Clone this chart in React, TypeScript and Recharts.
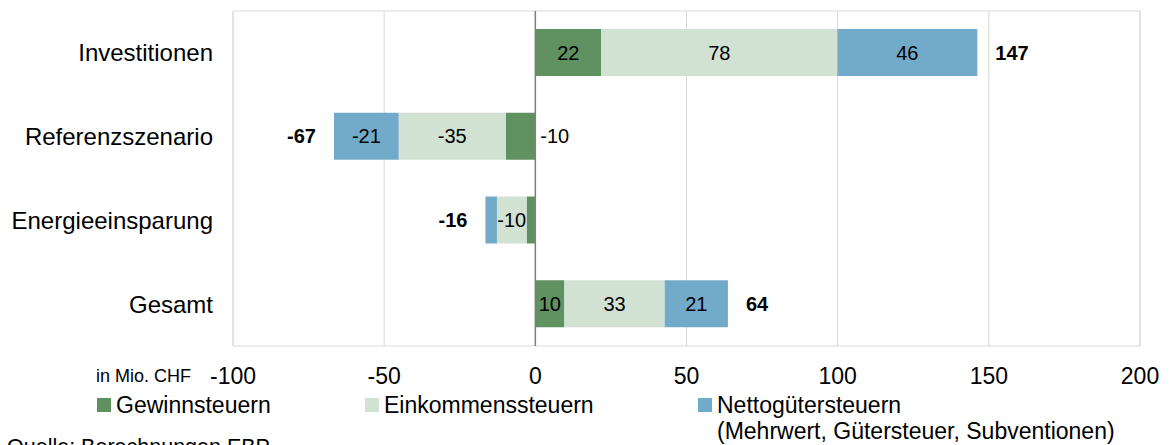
import { BarChart, Bar, XAxis, YAxis, CartesianGrid, ReferenceLine, ReferenceArea, LabelList } from "recharts";

const categories = ["Investitionen", "Referenzszenario", "Energieeinsparung", "Gesamt"];
const gewinn = [21.8, -9.8, -2.9, 9.6];
const einkommen = [78.1, -35.4, -9.8, 33.2];
const netto = [46.3, -21.4, -3.8, 20.9];
const totals = [147, -67, -16, 64];
const xTicks = [-100, -50, 0, 50, 100, 150, 200];

const GREEN = "#5f9161";
const LIGHT = "#d1e2d3";
const BLUE = "#72abc9";
const FONT = "'Liberation Sans', Arial, sans-serif";

const data = categories.map((name, i) => ({
  name,
  gewinn: gewinn[i],
  einkommen: einkommen[i],
  netto: netto[i],
}));

const segLabel = (series: string) => (props: any) => {
  const { x, y, width, height, value } = props;
  const v = Number(value);
  if (Math.abs(v) < 5) return null;
  const l = Math.min(x, x + width);
  const r = Math.max(x, x + width);
  let tx = (l + r) / 2;
  let anchor: "middle" | "start" = "middle";
  if (series === "gewinn" && v < 0) {
    tx = r + 5;
    anchor = "start";
  }
  return (
    <text x={tx} y={y + height / 2} textAnchor={anchor} dominantBaseline="central" fontSize={20} fill="#000" fontFamily={FONT}>
      {Math.round(v)}
    </text>
  );
};

const totalLabel = (props: any) => {
  const { x, y, width, height, index } = props;
  const t = totals[index];
  const l = Math.min(x, x + width);
  const r = Math.max(x, x + width);
  const pos = t >= 0;
  return (
    <text
      x={pos ? r + 18 : l - 18}
      y={y + height / 2}
      textAnchor={pos ? "start" : "end"}
      dominantBaseline="central"
      fontSize={20}
      fontWeight="bold"
      fill="#000"
      fontFamily={FONT}
    >
      {t}
    </text>
  );
};

const legendItems = [
  { x: 97, color: GREEN, lines: ["Gewinnsteuern"] },
  { x: 365, color: LIGHT, lines: ["Einkommenssteuern"] },
  { x: 698, color: BLUE, lines: ["Nettogütersteuern", "(Mehrwert, Gütersteuer, Subventionen)"] },
];

export default function App() {
  return (
    <div style={{ position: "absolute", left: 0, top: 0, width: 1172, height: 445, overflow: "hidden", background: "#fff", fontFamily: FONT }}>
      <BarChart
        width={1172}
        height={445}
        data={data}
        layout="vertical"
        stackOffset="sign"
        barSize={47}
        margin={{ top: 11, right: 32, bottom: 0, left: 0 }}
      >
        <CartesianGrid vertical horizontal={false} stroke="#d9d9d9" />
        <ReferenceArea x1={-100} x2={200} fill="none" stroke="#d9d9d9" />
        <XAxis
          type="number"
          domain={[-100, 200]}
          ticks={xTicks}
          height={99}
          axisLine={false}
          tickLine={false}
          tickMargin={16}
          tick={{ fontSize: 23, fill: "#000", fontFamily: FONT }}
        />
        <YAxis
          type="category"
          dataKey="name"
          width={233}
          axisLine={false}
          tickLine={false}
          tickMargin={14}
          tick={{ fontSize: 24, fill: "#000", fontFamily: FONT }}
        />
        <Bar dataKey="gewinn" stackId="a" fill={GREEN} isAnimationActive={false}>
          <LabelList dataKey="gewinn" content={segLabel("gewinn")} />
        </Bar>
        <Bar dataKey="einkommen" stackId="a" fill={LIGHT} isAnimationActive={false}>
          <LabelList dataKey="einkommen" content={segLabel("einkommen")} />
        </Bar>
        <Bar dataKey="netto" stackId="a" fill={BLUE} isAnimationActive={false}>
          <LabelList dataKey="netto" content={segLabel("netto")} />
          <LabelList dataKey="netto" content={totalLabel} />
        </Bar>
        <ReferenceLine x={0} stroke="#7f7f7f" strokeWidth={1.5} />
      </BarChart>
      <svg width={1172} height={445} style={{ position: "absolute", left: 0, top: 0, pointerEvents: "none" }}>
        <text x={96} y={376} fontSize={18} fontFamily={FONT} dominantBaseline="central" fill="#000">
          in Mio. CHF
        </text>
        {legendItems.map((it) => (
          <g key={it.lines[0]}>
            <rect x={it.x} y={398} width={14} height={14} fill={it.color} />
            {it.lines.map((ln, j) => (
              <text key={ln} x={it.x + 19} y={405 + j * 26} fontSize={23} fontFamily={FONT} dominantBaseline="central" fill="#000">
                {ln}
              </text>
            ))}
          </g>
        ))}
        <text x={7} y={454} fontSize={21.5} fontFamily={FONT} fill="#000">
          Quelle: Berechnungen EBP
        </text>
      </svg>
    </div>
  );
}
